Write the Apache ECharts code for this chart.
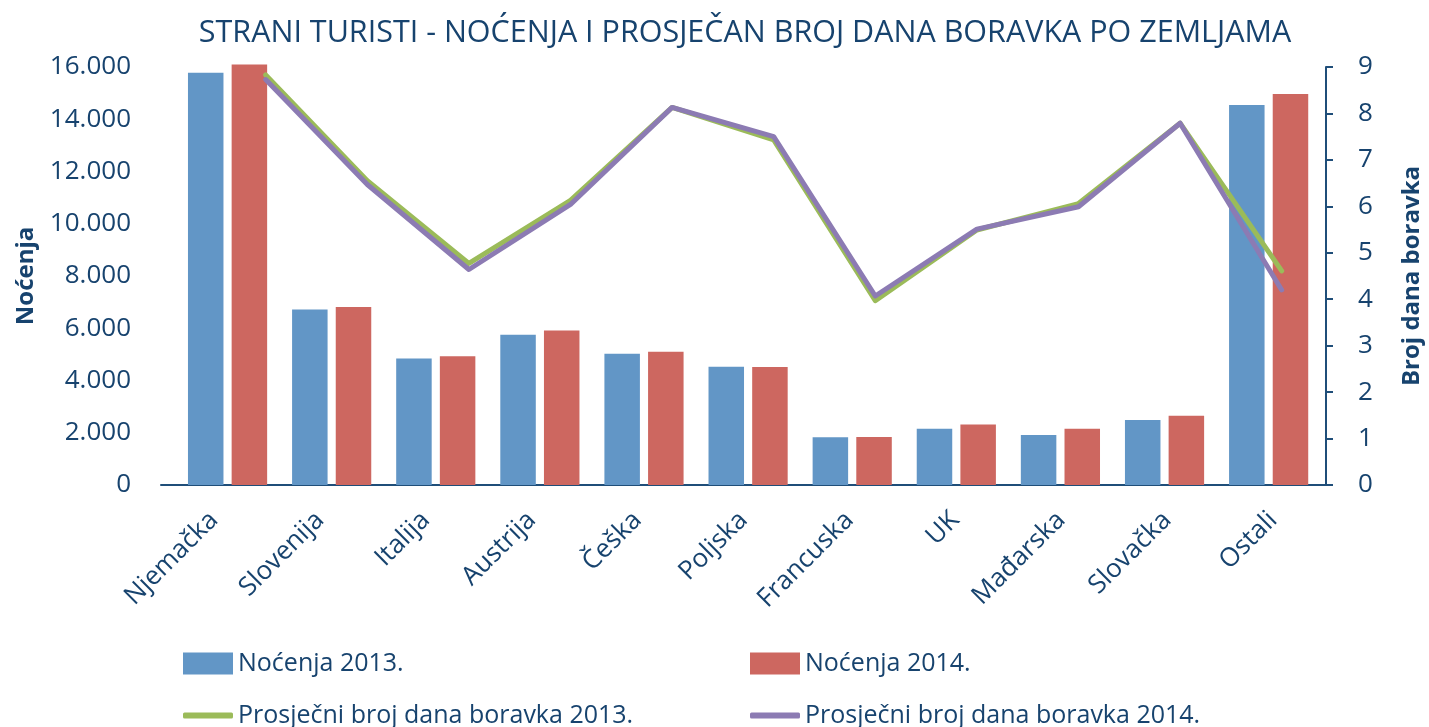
<!DOCTYPE html>
<html>
<head>
<meta charset="utf-8">
<script src="https://cdn.jsdelivr.net/npm/echarts@6/dist/echarts.min.js"></script>
<style>
  html, body { margin: 0; padding: 0; background: #fff; }
  #chart { width: 1429px; height: 727px; }
</style>
</head>
<body>
<div id="chart"></div>
<script>
// data
const countries = ['Njemačka', 'Slovenija', 'Italija', 'Austrija', 'Češka', 'Poljska',
  'Francuska', 'UK', 'Mađarska', 'Slovačka', 'Ostali'];
const nocenja2013 = [15780, 6720, 4840, 5750, 5020, 4530, 1830, 2150, 1910, 2490, 14550];
const nocenja2014 = [16100, 6810, 4930, 5910, 5100, 4520, 1840, 2320, 2150, 2650, 14970];
const boravak2013 = [8.83, 6.55, 4.77, 6.13, 8.13, 7.43, 3.97, 5.49, 6.06, 7.79, 4.61];
const boravak2014 = [8.73, 6.47, 4.64, 6.04, 8.13, 7.50, 4.07, 5.51, 5.99, 7.79, 4.20];

const navy = '#17436e';
const font = 'Open Sans';

const thousands = v => String(v).replace(/\B(?=(\d{3})+(?!\d))/g, '.');

const chart = echarts.init(document.getElementById('chart'));

// three grids with the same height: frame (axes + labels), bars, lines
// (in the original the bars and the lines are slightly offset from the label axis)
const plotTop = 67, plotBottom = 242;

function legendItem(name, left, top, icon, h) {
  return {
    left: left, top: top, itemWidth: 50, itemHeight: h, icon: icon,
    data: [name],
    textStyle: { fontFamily: font, fontSize: 25, color: navy }
  };
}

chart.setOption({
  animation: false,
  textStyle: { fontFamily: font, color: navy },
  title: {
    text: 'STRANI TURISTI - NOĆENJA I PROSJEČAN BROJ DANA BORAVKA PO ZEMLJAMA',
    left: 740, top: 13, textAlign: 'center',
    textStyle: { fontFamily: font, fontSize: 30.5, fontWeight: 'normal', color: navy }
  },
  legend: [
    legendItem('Noćenja 2013.', 178, 646, 'rect', 22),
    legendItem('Noćenja 2014.', 745, 646, 'rect', 22),
    legendItem('Prosječni broj dana boravka 2013.', 178, 698, 'roundRect', 6),
    legendItem('Prosječni broj dana boravka 2014.', 745, 698, 'roundRect', 6)
  ],
  grid: [
    { left: 161, right: 103, top: plotTop, bottom: plotBottom, outerBoundsMode: 'none' },
    { left: 175.5, right: 108.3, top: plotTop, bottom: plotBottom, outerBoundsMode: 'none' },
    { left: 265.7, right: 147.3, top: plotTop, bottom: plotBottom, outerBoundsMode: 'none' }
  ],
  xAxis: [
    {
      gridIndex: 0, type: 'category', data: countries,
      axisLine: { show: true, lineStyle: { color: '#1f4e79', width: 2 } },
      axisTick: { show: false }, splitLine: { show: false },
      axisLabel: {
        rotate: 45, margin: 31, interval: 0,
        fontSize: 26, color: navy, fontFamily: font
      }
    },
    { gridIndex: 1, type: 'category', data: countries, show: false },
    { gridIndex: 2, type: 'category', data: countries, boundaryGap: false, show: false }
  ],
  yAxis: [
    {
      gridIndex: 0, type: 'value', min: 0, max: 16000, interval: 2000,
      name: 'Noćenja', nameLocation: 'middle', nameRotate: 90, nameGap: 123, nameMoveOverlap: false,
      nameTextStyle: { fontFamily: font, fontSize: 24, fontWeight: 'bold', color: navy },
      axisLine: { show: false }, axisTick: { show: false }, splitLine: { show: false },
      axisLabel: { margin: 30, fontSize: 26, color: navy, fontFamily: font, formatter: thousands }
    },
    {
      gridIndex: 0, type: 'value', position: 'right', min: 0, max: 9, interval: 1,
      name: 'Broj dana boravka', nameLocation: 'middle', nameRotate: 90, nameGap: 74, nameMoveOverlap: false,
      nameTextStyle: { fontFamily: font, fontSize: 24, fontWeight: 'bold', color: navy },
      axisLine: { show: true, lineStyle: { color: '#1f4e79', width: 2 } },
      axisTick: { show: true, length: 7, lineStyle: { color: '#1f4e79', width: 2 } },
      splitLine: { show: false },
      axisLabel: { margin: 32, fontSize: 26, color: navy, fontFamily: font }
    },
    { gridIndex: 1, type: 'value', min: 0, max: 16000, show: false, splitLine: { show: false } },
    { gridIndex: 2, type: 'value', min: 0, max: 9, show: false, splitLine: { show: false } }
  ],
  series: [
    {
      name: 'Noćenja 2013.', type: 'bar', xAxisIndex: 1, yAxisIndex: 2,
      data: nocenja2013, barWidth: 35.5, barGap: '23%', clip: false,
      itemStyle: { color: '#6296c6' }
    },
    {
      name: 'Noćenja 2014.', type: 'bar', xAxisIndex: 1, yAxisIndex: 2,
      data: nocenja2014, barWidth: 35.5, barGap: '23%', clip: false,
      itemStyle: { color: '#cd6760' }
    },
    {
      name: 'Prosječni broj dana boravka 2013.', type: 'line', xAxisIndex: 2, yAxisIndex: 3,
      data: boravak2013, symbol: 'none', clip: false,
      lineStyle: { color: '#9bbb59', width: 5, cap: 'round', join: 'round' },
      itemStyle: { color: '#9bbb59' }
    },
    {
      name: 'Prosječni broj dana boravka 2014.', type: 'line', xAxisIndex: 2, yAxisIndex: 3,
      data: boravak2014, symbol: 'none', clip: false,
      lineStyle: { color: '#8c7bb3', width: 5, cap: 'round', join: 'round' },
      itemStyle: { color: '#8c7bb3' }
    }
  ]
});
</script>
</body>
</html>
